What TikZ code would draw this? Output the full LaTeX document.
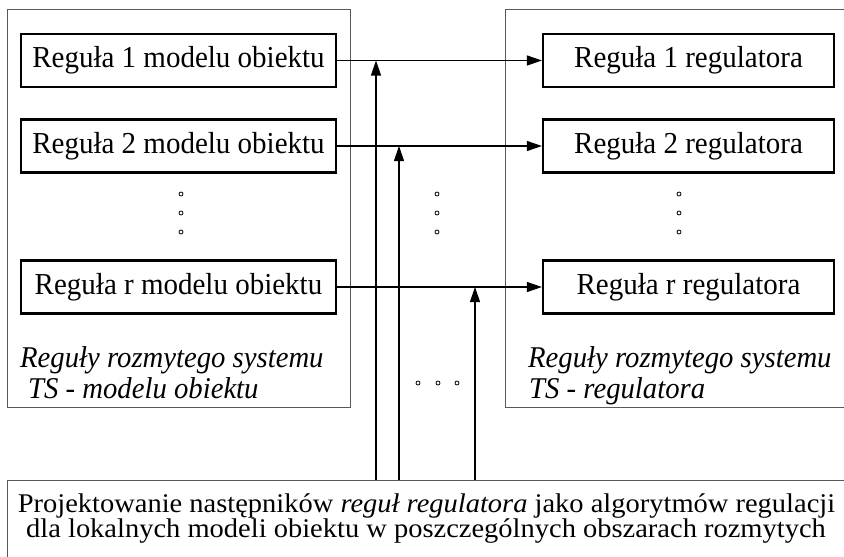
\documentclass[tikz,border=0pt]{standalone}
\usepackage{fontspec}
\usepackage{graphicx}
\setmainfont{Liberation Serif}
\usetikzlibrary{arrows.meta}
% box lettering is set slightly taller than the font's natural shape
\newcommand{\tall}[1]{\scalebox{1}[1.05]{#1}}
% the design-block lettering is set slightly wider
\newcommand{\wide}[1]{\scalebox{1.055}[1]{#1}}
\begin{document}
\begin{tikzpicture}[x=1pt,y=-1pt,
  rulebox/.style={draw, line width=2.2pt, minimum height=53pt, inner sep=0pt,
    font=\fontsize{29}{29}\selectfont},
  frame/.style={draw=black!65, line width=1.3pt, inner sep=0pt, anchor=north west},
  link/.style={line width=1.2pt, -{Triangle[length=15pt,width=10pt]}},
  dotmark/.style={circle, draw, inner sep=0pt, minimum size=4pt, line width=0.8pt},
  caption/.style={inner sep=0pt, anchor=base west,
    font=\fontsize{28.7}{30}\selectfont\itshape},
  textline/.style={inner sep=0pt, anchor=base, font=\fontsize{27}{25}\selectfont}
]
\useasboundingbox (0,0) rectangle (844,557);
\clip (0,0) rectangle (844,557);

% outer frames (the right and bottom ones run past the page edge)
\node[frame, minimum width=343pt, minimum height=398pt] (leftframe) at (7,9) {};
\node[frame, minimum width=380pt, minimum height=398pt] (rightframe) at (505,9) {};
\node[frame, minimum width=880pt, minimum height=140pt] (proj) at (7,480) {};

% rules of the plant model
\node[rulebox, minimum width=315pt] (m1) at (178.5,60.5) {\tall{Reguła 1 modelu obiektu}};
\node[rulebox, minimum width=315pt] (m2) at (178.5,146) {\tall{Reguła 2 modelu obiektu}};
\node[rulebox, minimum width=315pt] (mr) at (178.5,287) {\tall{Reguła r modelu obiektu}};

% rules of the controller
\node[rulebox, minimum width=291pt] (r1) at (688.5,60.5) {\tall{Reguła 1 regulatora}};
\node[rulebox, minimum width=291pt] (r2) at (688.5,146) {\tall{Reguła 2 regulatora}};
\node[rulebox, minimum width=291pt] (rr) at (688.5,287) {\tall{Reguła r regulatora}};

% vertical ellipses
\foreach \x/\n in {181/a,437/b,679/c}
  \foreach \y/\k in {194/1,213/2,232/3}
    \node[dotmark] (dot\n\k) at (\x,\y) {};
% horizontal ellipsis
\foreach \x/\k in {418/1,438/2,457/3}
  \node[dotmark] (hdot\k) at (\x,383) {};

% frame captions
\node[caption] (leftcapA) at (20,367) {\tall{Reguły rozmytego systemu}};
\node[caption] (leftcapB) at (28,398) {\tall{TS - modelu obiektu}};
\node[caption] (rightcapA) at (528,367) {\tall{Reguły rozmytego systemu}};
\node[caption] (rightcapB) at (529,398) {\tall{TS - regulatora}};

% design block text
\node[textline] (projA) at (426.5,512)
  {\wide{Projektowanie następników \textit{reguł regulatora} jako algorytmów regulacji}};
\node[textline] (projB) at (426,537)
  {\wide{dla lokalnych modeli obiektu w poszczególnych obszarach rozmytych}};

% rule-to-rule connections
\draw[link] (m1.east) -- (r1.west);
\draw[link] (m2.east) -- (r2.west);
\draw[link] (mr.east) -- (rr.west);

% junctions fed from the design block
\coordinate (j1) at (376,60.5);
\coordinate (j2) at (399,146);
\coordinate (jr) at (475,287);
\draw[link] (proj.north -| j1) -- (j1);
\draw[link] (proj.north -| j2) -- (j2);
\draw[link] (proj.north -| jr) -- (jr);
\end{tikzpicture}
\end{document}
